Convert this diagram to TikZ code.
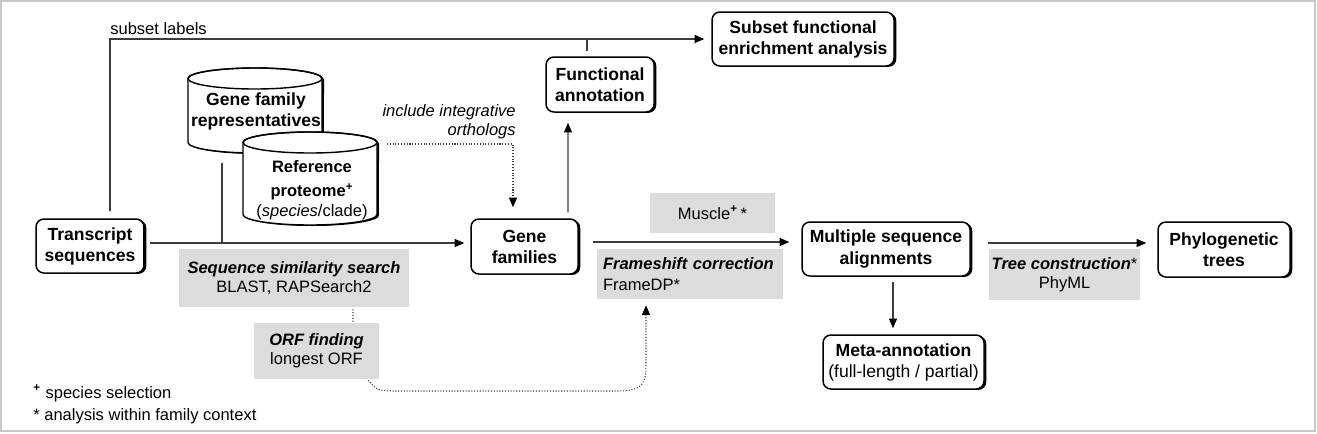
\documentclass[tikz,border=0pt]{standalone}
\usepackage{fontspec}
\setmainfont{Liberation Sans}
\usetikzlibrary{arrows.meta,calc,shadows}
\definecolor{toolgray}{RGB}{220,220,220}
\definecolor{framegray}{RGB}{200,200,200}
\definecolor{linegray}{RGB}{60,60,60}
\tikzset{
  stepbox/.style={draw, line width=0.85pt, rounded corners=4.5pt, fill=white,
    align=center, inner sep=0pt, font=\bfseries,
    general shadow={fill=black, shadow xshift=1.3pt, shadow yshift=-0.5pt}},
  toolbox/.style={fill=toolgray, align=center, inner sep=0pt},
  flow/.style={draw=linegray, line width=0.6pt, -{Triangle[length=5.5pt,width=4.6pt,color=black]}},
  hint/.style={draw=linegray, line width=0.6pt, densely dotted},
}
\begin{document}
\begin{tikzpicture}[x=0.02cm, y=-0.02cm, font=\fontsize{9.4}{11}\selectfont]
    \useasboundingbox (0,0) rectangle (1317,433);
    % frame round the figure
    \draw[framegray, line width=1.2pt] (1,1) rectangle (1315,431);

    % databases drawn as cylinders
    \foreach \cx/\ty/\by in {255/78.5/142.5, 310/142.5/214.5}{
        \fill[black] (\cx-65,\ty+1) -- (\cx-65,\by+1) arc[start angle=180,end angle=360,x radius=1.34cm,y radius=0.21cm]
            -- (\cx+69,\ty+1) arc[start angle=0,end angle=180,x radius=1.34cm,y radius=0.21cm] -- cycle;
        \draw[fill=white, line width=0.8pt] (\cx-67,\ty) -- (\cx-67,\by) arc[start angle=180,end angle=360,x radius=1.34cm,y radius=0.21cm]
            -- (\cx+67,\ty) arc[start angle=0,end angle=180,x radius=1.34cm,y radius=0.21cm] -- cycle;
        \draw[line width=0.8pt] (\cx,\ty) ellipse[x radius=1.34cm, y radius=0.21cm];
    }
    \node[font=\bfseries, align=center, inner sep=0pt] (gfr) at (256,111) {Gene family\\representatives};
    \node[align=center, inner sep=0pt] (refp) at (312,190) {\textbf{Reference}\\[3pt]\textbf{proteome}\textsuperscript{\textbf{+}}\\(\textit{species}/clade)};

    % main steps
    \node[stepbox, minimum width=2.16cm, minimum height=1.08cm] (transcript) at (90,246) {Transcript\\sequences};
    \node[stepbox, minimum width=2.14cm, minimum height=1.1cm] (genefam) at (524.5,246.5) {Gene\\families};
    \node[stepbox, minimum width=2.16cm, minimum height=1.1cm] (funcann) at (600,84.5) {Functional\\annotation};
    \node[stepbox, minimum width=3.64cm, minimum height=1.08cm] (subset) at (803,39) {Subset functional\\enrichment analysis};
    \node[stepbox, minimum width=3.36cm, minimum height=1.08cm] (msa) at (886,249) {Multiple sequence\\alignments};
    \node[stepbox, minimum width=2.64cm, minimum height=1.1cm] (phylo) at (1224,249.5) {Phylogenetic\\trees};
    \node[stepbox, minimum width=3.22cm, minimum height=1.08cm] (meta) at (903.5,362) {Meta-annotation\\\mdseries(full-length / partial)};

    % tools in grey boxes
    \node[toolbox, minimum width=4.6cm, minimum height=1.16cm] (seqsearch) at (294,278) {\textbf{\textit{Sequence similarity search}}\\BLAST, RAPSearch2};
    \node[toolbox, minimum width=2.5cm, minimum height=1.12cm] (orf) at (316.5,351) {\textbf{\textit{ORF finding}}\\longest ORF};
    \node[toolbox, minimum width=2.5cm, minimum height=0.8cm] (muscle) at (712.5,213) {Muscle\textsuperscript{\textbf{+}}\,*};
    \node[toolbox, align=left, text width=3.48cm, inner xsep=0.12cm, minimum height=1.0cm] (frameshift) at (690,274) {\textbf{\textit{Frameshift correction}}\\[1pt]FrameDP*};
    \node[toolbox, minimum width=3.02cm, minimum height=1.02cm] (tree) at (1064.5,274.5) {\textbf{\textit{Tree construction}}*\\PhyML};

    % notes
    \node[anchor=west, inner sep=0pt] (sublab) at (110,29) {subset labels};
    \node[anchor=east, align=right, inner sep=0pt, font=\fontsize{9.4}{11}\selectfont\itshape] (orthnote) at (516,122) {include integrative\\orthologs};
    \node[anchor=west, inner sep=0pt] (fn1) at (33,393) {\textsuperscript{\textbf{+}} species selection};
    \node[anchor=west, inner sep=0pt] (fn2) at (33,416) {* analysis within family context};

    % connectors
    \coordinate (gfrbase) at (222,163);
    \coordinate (merge) at (222,243);
    \coordinate (refpout) at (387,144);
    \draw[flow] ($(transcript.east)+(5,-3)$) -- ($(genefam.west)+(-6,-3.5)$);
    \draw[draw=linegray, line width=0.6pt] (gfrbase) -- (merge);
    \draw[flow] ($(transcript.north)+(20,-7)$) |- ($(subset.west)+(-7,0)$);
    \draw[draw=linegray, line width=0.6pt] ($(funcann.north)+(-13,-5)$) -- ($(funcann.north)+(-13,-18)$);
    \draw[flow] ($(genefam.north)+(43.5,-6)$) -- ($(funcann.south)+(-32,10)$);
    \draw[hint, -{Triangle[length=5.5pt,width=4.6pt,color=black]}] (refpout) -| ($(genefam.north)+(-11.5,-11)$);
    \draw[flow] ($(genefam.east)+(14,-4.5)$) -- ($(msa.west)+(-12,-7)$);
    \draw[flow] ($(msa.east)+(17,-6)$) -- ($(phylo.west)+(-11,-6.5)$);
    \draw[flow] ($(msa.south)+(7,5)$) -- ($(meta.north)+(-10.5,-6)$);
    \draw[hint] ($(seqsearch.south)+(59,2)$) -- ($(orf.north)+(36.5,0)$);
    \draw[hint, -{Triangle[length=5.5pt,width=4.6pt,color=black]}] ($(orf.south)+(51.5,1)$) .. controls (378,391) .. (400,391)
        -- (618,391) .. controls (646,391) and (646,380) .. (646,362) -- ($(frameshift.south)+(-44,6)$);
\end{tikzpicture}
\end{document}
